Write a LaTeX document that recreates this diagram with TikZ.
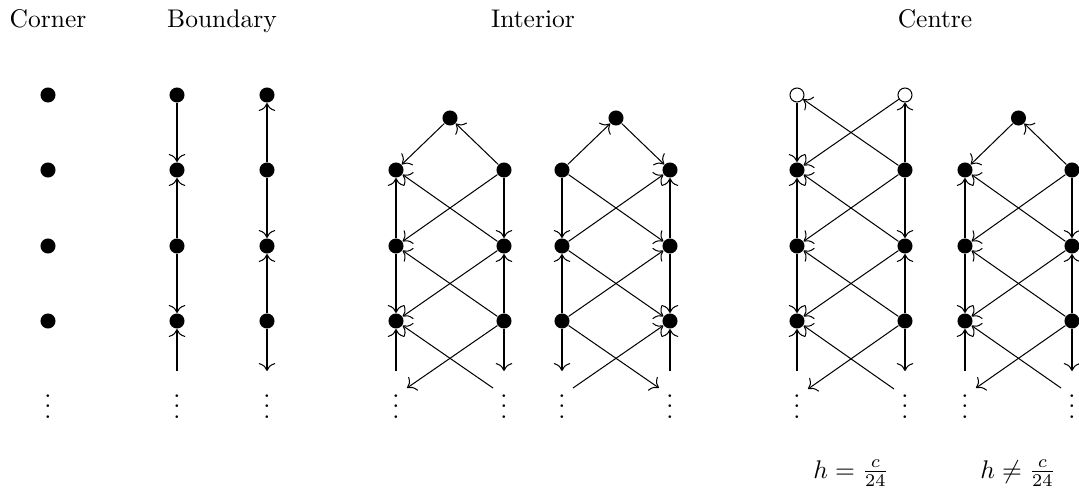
\documentclass[tikz,border=0pt]{standalone}
\usetikzlibrary{arrows.meta}
\tikzset{
  vtx/.style={circle,fill=black,inner sep=0pt,minimum size=5.9pt},
  ovtx/.style={circle,draw=black,fill=white,inner sep=0pt,minimum size=5.5pt,line width=0.4pt},
  arr/.style={-{To[scale=1.25]},line width=0.4pt},
  lab/.style={anchor=base,inner sep=0pt},
  vd/.style={anchor=base,inner sep=0pt}
}
\newcommand\LeftGroup[3]{%
  \node[vtx] (#1T) at ({(#2+#3)/2},118) {};
  \foreach \i/\yy in {1/170,2/246,3/321}{
    \node[vtx] (#1L\i) at (#2,\yy) {};
    \node[vtx] (#1R\i) at (#3,\yy) {};
  }
  \coordinate (#1Lb) at (#2,371);
  \coordinate (#1Rb) at (#3,371);
  \coordinate (#1Ld) at (#2+11,388);
  \coordinate (#1Rd) at (#3-11,388);
  \node[vd] (#1Ldots) at (#2,418) {$\vdots$};
  \node[vd] (#1Rdots) at (#3,418) {$\vdots$};
  \draw[arr] (#1T) -- (#1L1);
  \draw[arr] (#1R1) -- (#1T);
  \draw[arr] (#1R1) -- (#1L2);
  \draw[arr] (#1R2) -- (#1L1);
  \draw[arr] (#1R2) -- (#1L3);
  \draw[arr] (#1R3) -- (#1L2);
  \draw[arr] (#1L2) -- (#1L1);
  \draw[arr] (#1L2) -- (#1L3);
  \draw[arr] (#1Lb) -- (#1L3);
  \draw[arr] (#1R1) -- (#1R2);
  \draw[arr] (#1R3) -- (#1R2);
  \draw[arr] (#1R3) -- (#1Rb);
  \draw[arr] (#1R3) -- (#1Ld);
  \draw[arr] (#1Rd) -- (#1L3);
}
\newcommand\RightGroup[3]{%
  \node[vtx] (#1T) at ({(#2+#3)/2},118) {};
  \foreach \i/\yy in {1/170,2/246,3/321}{
    \node[vtx] (#1L\i) at (#2,\yy) {};
    \node[vtx] (#1R\i) at (#3,\yy) {};
  }
  \coordinate (#1Lb) at (#2,371);
  \coordinate (#1Rb) at (#3,371);
  \coordinate (#1Ld) at (#2+11,388);
  \coordinate (#1Rd) at (#3-11,388);
  \node[vd] (#1Ldots) at (#2,418) {$\vdots$};
  \node[vd] (#1Rdots) at (#3,418) {$\vdots$};
  \draw[arr] (#1L1) -- (#1T);
  \draw[arr] (#1T) -- (#1R1);
  \draw[arr] (#1L1) -- (#1R2);
  \draw[arr] (#1L2) -- (#1R1);
  \draw[arr] (#1L2) -- (#1R3);
  \draw[arr] (#1L3) -- (#1R2);
  \draw[arr] (#1R2) -- (#1R1);
  \draw[arr] (#1R2) -- (#1R3);
  \draw[arr] (#1Rb) -- (#1R3);
  \draw[arr] (#1L1) -- (#1L2);
  \draw[arr] (#1L3) -- (#1L2);
  \draw[arr] (#1L3) -- (#1Lb);
  \draw[arr] (#1L3) -- (#1Rd);
  \draw[arr] (#1Ld) -- (#1R3);
}
\begin{document}
\begin{tikzpicture}[x=0.392pt,y=-0.392pt]
\useasboundingbox (0,0) rectangle (1079,488);
% titles
\node[lab] (tcorner) at (48,28) {Corner};
\node[lab] (tbound) at (222,28) {Boundary};
\node[lab] (tint) at (533,28) {Interior};
\node[lab] (tcent) at (935,28) {Centre};
\node[lab] (th1) at (851,478) {$h=\frac{c}{24}$};
\node[lab] (th2) at (1018,478) {$h\neq\frac{c}{24}$};
% corner
\foreach \i/\yy in {0/95,1/170,2/246,3/321}{
  \node[vtx] (k\i) at (48,\yy) {};
}
\node[vd] (kdots) at (48,418) {$\vdots$};
% boundary columns
\foreach \i/\yy in {0/95,1/170,2/246,3/321}{
  \node[vtx] (a\i) at (177,\yy) {};
  \node[vtx] (b\i) at (267,\yy) {};
}
\coordinate (ab) at (177,371);
\coordinate (bb) at (267,371);
\node[vd] (adots) at (177,418) {$\vdots$};
\node[vd] (bdots) at (267,418) {$\vdots$};
\draw[arr] (a0) -- (a1);
\draw[arr] (a2) -- (a1);
\draw[arr] (a2) -- (a3);
\draw[arr] (ab) -- (a3);
\draw[arr] (b1) -- (b0);
\draw[arr] (b1) -- (b2);
\draw[arr] (b3) -- (b2);
\draw[arr] (b3) -- (bb);
% interior
\LeftGroup{g}{396}{504}
\RightGroup{h}{562}{670}
% centre, h = c/24
\node[ovtx] (cOL) at (797,95) {};
\node[ovtx] (cOR) at (905,95) {};
\foreach \i/\yy in {1/170,2/246,3/321}{
  \node[vtx] (cL\i) at (797,\yy) {};
  \node[vtx] (cR\i) at (905,\yy) {};
}
\coordinate (cLb) at (797,371);
\coordinate (cRb) at (905,371);
\coordinate (cLd) at (808,389);
\coordinate (cRd) at (894,389);
\node[vd] (cLdots) at (797,418) {$\vdots$};
\node[vd] (cRdots) at (905,418) {$\vdots$};
\draw[arr] (cOL) -- (cL1);
\draw[arr] (cOR) -- (cL1);
\draw[arr] (cR1) -- (cOL);
\draw[arr] (cR1) -- (cOR);
\draw[arr] (cR1) -- (cL2);
\draw[arr] (cR2) -- (cL1);
\draw[arr] (cR2) -- (cL3);
\draw[arr] (cR3) -- (cL2);
\draw[arr] (cL2) -- (cL1);
\draw[arr] (cL2) -- (cL3);
\draw[arr] (cLb) -- (cL3);
\draw[arr] (cR1) -- (cR2);
\draw[arr] (cR3) -- (cR2);
\draw[arr] (cR3) -- (cRb);
\draw[arr] (cR3) -- (cLd);
\draw[arr] (cRd) -- (cL3);
% centre, h != c/24
\LeftGroup{m}{965}{1072}
\end{tikzpicture}
\end{document}
